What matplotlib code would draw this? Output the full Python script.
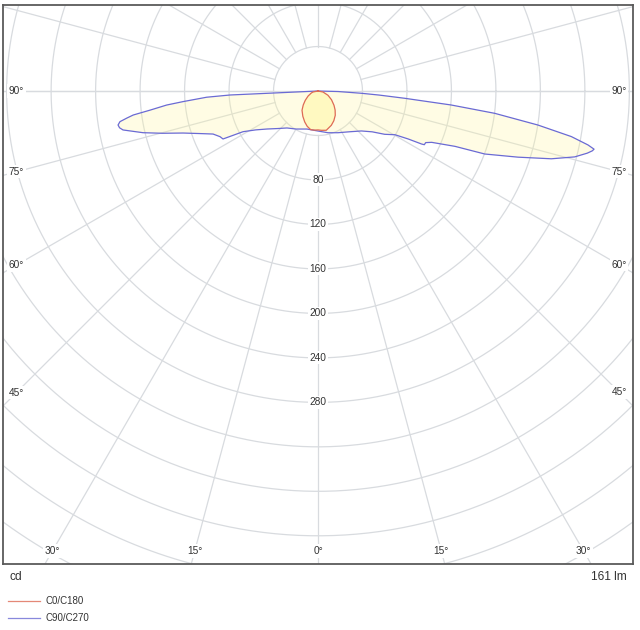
import numpy as np
import matplotlib
matplotlib.use("Agg")
import matplotlib.pyplot as plt
from matplotlib.lines import Line2D

plt.rcParams['font.family'] = ['Liberation Sans', 'DejaVu Sans']

# ---- data (gamma in degrees from nadir, intensity in cd) ----
# C90 half-plane (drawn on the right), blue
c90_gamma = [0, 13.5, 25.6, 38.0, 47.3, 53.0, 57.0, 60.4, 62.0, 62.9, 63.2, 64.4, 65.7, 68.0,
             69.3, 71.7, 73.8, 75.6, 77.0, 77.7, 78.1, 78.7, 79.8, 81.2, 82.8, 84.0, 85.2,
             86.2, 87.0, 88.5, 90]
c90_cd = [36, 38.6, 41.6, 46.5, 53, 61, 71.5, 79.6, 92, 104.7, 107.1, 107.4, 112.2, 132.9,
          160.3, 189.5, 218.5, 238.3, 248.5, 252.5, 253.7, 247.6, 231.5, 200.2, 160.2, 120.5,
          78.2, 55, 39, 18, 0]
# C270 half-plane (drawn on the left), blue
c270_gamma = [0, 16.1, 30.0, 40.0, 47.0, 53.3, 58.0, 61.5, 63.2, 65.0, 67.7, 70.0, 72.7,
              74.8, 76.6, 78.7, 79.5, 80.35, 81.2, 81.95, 82.6, 83.5, 84.7, 85.5, 86.8,
              87.4, 90]
c270_cd = [36, 35.6, 39.5, 43.4, 49.5, 57.2, 66, 76.7, 95.7, 97.2, 102, 112, 127.1,
           145, 161.8, 178.8, 181.5, 182.4, 180.2, 173.5, 167.5, 152, 136.7, 121.8, 100.3,
           79.2, 0]
# C0 half-plane (right), red
c0_gamma = [0, 5.0, 11.9, 21.2, 28.0, 35.4, 42.0, 48.2, 57.0, 66.7, 78.7, 90]
c0_cd = [35, 35.5, 36.1, 33.1, 30.3, 26.8, 23.0, 19.3, 14.5, 9.8, 4.6, 0]
# C180 half-plane (left), red
c180_gamma = [0, 5.0, 10.7, 17.0, 23.2, 31.0, 39.7, 46.5, 53.8, 63.0, 73.4, 78.7, 90]
c180_cd = [35, 35.3, 35.4, 33.2, 30.3, 26.5, 22.5, 18.3, 14.2, 10.0, 6.3, 4.6, 0]

ring_values = [80, 120, 160, 200, 240, 280]
side_angles = [45, 60, 75, 90]
bottom_angles = [-30, -15, 0, 15, 30]
flux_label = "161 lm"
unit_label = "cd"
legend_labels = ["C0/C180", "C90/C270"]

# ---- styles ----
col_red = '#de6a55'
col_blue = '#6a6ad4'
col_grid = '#d8dbdf'
col_text = '#333333'

W, H = 640, 630
fig = plt.figure(figsize=(W / 100, H / 100), dpi=100)
# plot frame in pixels
fl, fr, ft, fb = 3, 633, 5, 564
cx, cy = 318, 91
s = 1.112  # px per cd
ax = fig.add_axes([fl / W, (H - fb) / H, (fr - fl) / W, (fb - ft) / H])
ax.set_xlim((fl - cx) / s, (fr - cx) / s)
ax.set_ylim(-(fb - cy) / s, (cy - ft) / s)
ax.set_xticks([])
ax.set_yticks([])
for sp in ax.spines.values():
    sp.set_color('#5a5a5a')
    sp.set_linewidth(1.3)


def half(gamma, cd, side):
    g = np.radians(np.asarray(gamma, float))
    I = np.asarray(cd, float)
    return side * I * np.sin(g), -I * np.cos(g)


# grid circles
t = np.linspace(0, 2 * np.pi, 721)
for r in range(40, 640, 40):
    ax.plot(r * np.cos(t), r * np.sin(t), color=col_grid, lw=0.9, zorder=1)
# radial lines every 15 deg
for a in range(0, 360, 15):
    ar = np.radians(a)
    r0 = 40
    ax.plot([r0 * np.sin(ar), 1000 * np.sin(ar)], [-r0 * np.cos(ar), -1000 * np.cos(ar)],
            color=col_grid, lw=0.9, zorder=1)
ax.plot([-1000, 1000], [0, 0], color=col_grid, lw=0.9, zorder=1)

# curves
lx, ly = half(c270_gamma, c270_cd, -1)
rx, ry = half(c90_gamma, c90_cd, 1)
bx = np.concatenate([lx[::-1], rx])
by = np.concatenate([ly[::-1], ry])
lx2, ly2 = half(c180_gamma, c180_cd, -1)
rx2, ry2 = half(c0_gamma, c0_cd, 1)
qx = np.concatenate([lx2[::-1], rx2])
qy = np.concatenate([ly2[::-1], ry2])

ax.fill(bx, by, color='#fff7a0', alpha=0.28, lw=0, zorder=2)
ax.fill(qx, qy, color='#fff7a0', alpha=0.5, lw=0, zorder=2)
ax.plot(bx, by, color=col_blue, lw=0.9, zorder=4, solid_joinstyle='round')
ax.plot(qx, qy, color=col_red, lw=0.9, zorder=4, solid_joinstyle='round')

bbox = dict(boxstyle='square,pad=0.15', fc='white', ec='none')
fs = 7.3
for v in ring_values:
    ax.text(0, -v, str(v), ha='center', va='center', fontsize=fs, color=col_text,
            bbox=bbox, zorder=3)

xl = (16.5 - cx) / s
xr = (619 - cx) / s
for a in side_angles:
    ar = np.radians(a)
    yl = 0 if a == 90 else xl / np.tan(ar)
    ax.text(xl, yl, f"{a}°", ha='center', va='center', fontsize=fs, color=col_text,
            bbox=bbox, zorder=3)
    yr = 0 if a == 90 else -xr / np.tan(ar)
    ax.text(xr, yr, f"{a}°", ha='center', va='center', fontsize=fs, color=col_text,
            bbox=bbox, zorder=3)
yb = -(551 - cy) / s
for a in bottom_angles:
    ax.text(-yb * np.tan(np.radians(a)), yb, f"{abs(a)}°", ha='center', va='center',
            fontsize=fs, color=col_text, bbox=bbox, zorder=3)

# texts under the frame
fig.text(10 / W, 1 - 577 / H, unit_label, ha='left', va='center', fontsize=8.6, color=col_text)
fig.text(627 / W, 1 - 577 / H, flux_label, ha='right', va='center', fontsize=8.6, color=col_text)

for i, (lab, col) in enumerate(zip(legend_labels, [col_red, col_blue])):
    yy = 1 - (601 + 17 * i) / H
    fig.add_artist(Line2D([8 / W, 40 / W], [yy, yy], color=col, lw=0.9, alpha=0.8))
    fig.text(45 / W, yy, lab, ha='left', va='center', fontsize=7.0, color=col_text)

fig.savefig('out.png', dpi=100)
